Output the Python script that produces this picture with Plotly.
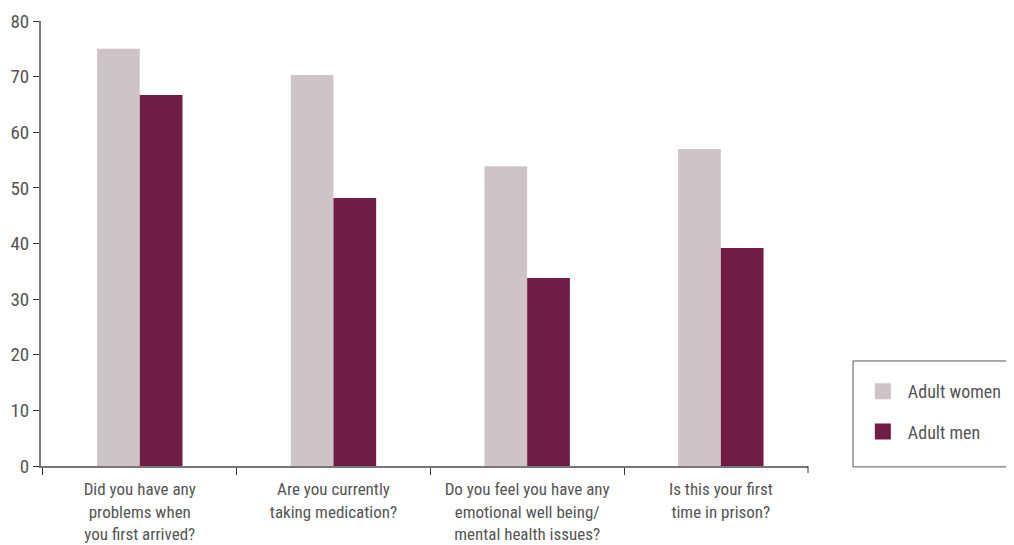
import plotly.graph_objects as go

categories = [
    "Did you have any<br>problems when<br>you first arrived?",
    "Are you currently<br>taking medication?",
    "Do you feel you have any<br>emotional well being/<br>mental health issues?",
    "Is this your first<br>time in prison?",
]
women = [75.0, 70.3, 53.9, 57.0]
men = [66.7, 48.2, 33.8, 39.2]
series_names = ["Adult women", "Adult men"]
series_colors = ["#CEC4C8", "#701C45"]
y_ticks = [0, 10, 20, 30, 40, 50, 60, 70, 80]

FONT = "Liberation Sans Narrow, Roboto Condensed, DejaVu Sans Condensed, sans-serif"
TXT = "#555555"

fig = go.Figure()
for vals, name, col in zip([women, men], series_names, series_colors):
    fig.add_trace(go.Bar(x=categories, y=vals, name=name, showlegend=False,
                         marker=dict(color=col, line=dict(width=0))))
# legend entries with larger square swatches
for name, col in zip(series_names, series_colors):
    fig.add_trace(go.Scatter(x=[None], y=[None], mode="markers", name=name,
                             legendgroup=name,
                             marker=dict(symbol="square", size=22, color=col)))

fig.update_layout(
    width=1014, height=545,
    margin=dict(l=33, r=214, t=13, b=87, autoexpand=False),
    paper_bgcolor="white", plot_bgcolor="white",
    barmode="group", bargap=0.559, bargroupgap=0,
    font=dict(family=FONT, size=17, color=TXT),
    showlegend=True,
    legend=dict(
        x=1.065, y=0.209, xanchor="left", yanchor="top",
        borderwidth=0, bgcolor="rgba(0,0,0,0)",
        font=dict(family=FONT, size=18, color=TXT),
        tracegroupgap=14, itemwidth=40, itemsizing="trace",
        traceorder="grouped",
    ),
    shapes=[
        dict(type="rect", xref="paper", yref="paper",
             x0=1.0587, x1=1.6, y0=-0.002, y1=0.236,
             line=dict(color="#555555", width=1), fillcolor="rgba(0,0,0,0)",
             layer="below"),
        # closing tick at the right end of the category axis
        dict(type="line", xref="paper", yref="paper",
             x0=1.0, x1=1.0, y0=0, y1=-0.0157,
             line=dict(color="#333333", width=1)),
    ],
    xaxis=dict(
        range=[-0.51, 3.45],
        showline=True, linecolor="#777777", linewidth=2,
        ticks="outside", tickson="boundaries", ticklen=7, tickcolor="#333333",
        tickfont=dict(family=FONT, size=17, color=TXT),
        ticklabelstandoff=7,
        showgrid=False, zeroline=False, automargin=False,
    ),
    yaxis=dict(
        range=[0, 80], tickvals=y_ticks,
        showline=True, linecolor="#777777", linewidth=2,
        ticks="outside", ticklen=6, tickcolor="#333333",
        tickfont=dict(family=FONT, size=19, color=TXT),
        showgrid=False, zeroline=False, automargin=False,
    ),
)

fig.write_html("out.html")
